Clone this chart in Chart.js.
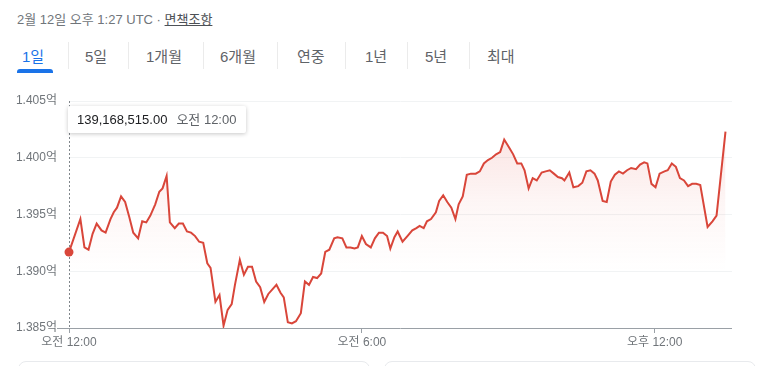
<!DOCTYPE html>
<html><head><meta charset="utf-8">
<script src="https://cdn.jsdelivr.net/npm/chart.js@4/dist/chart.umd.min.js"></script>
<style>
html,body{margin:0;padding:0;background:#fff;width:768px;height:366px;overflow:hidden;font-family:"Liberation Sans","Noto Sans CJK KR",Arial,sans-serif;}
#hdr{position:absolute;left:17px;top:9px;font-size:13px;color:#70757a;white-space:nowrap;}
#hdr u{color:#4d5156;text-decoration:underline;}
.tab{position:absolute;top:45px;font-size:15px;color:#5f6368;white-space:nowrap;}
.tab.on{color:#1a73e8;}
.sep{position:absolute;top:42px;width:1px;height:27px;background:#ebebeb;}
#bar{position:absolute;left:17px;top:69px;width:36px;height:4px;background:#1a73e8;border-radius:3px 3px 0 0;}
#wrap{position:absolute;left:0;top:80px;width:768px;height:286px;}
#tip{position:absolute;left:68px;top:106px;width:178px;height:27px;background:#fff;box-shadow:0 1px 4px rgba(0,0,0,0.22);border-radius:2px;font-size:13px;line-height:27px;color:#202124;white-space:nowrap;z-index:5;}
#tip span.t{color:#5f6368;margin-left:9px;}
.card{position:absolute;top:361px;height:20px;border:1px solid #e8eaed;border-radius:8px;}
</style></head><body>
<div id="hdr">2월 12일 오후 1:27 UTC · <u>면책조항</u></div>
<div id="tabs"></div>
<div id="bar"></div>
<div class="card" style="left:18px;width:350px"></div>
<div class="card" style="left:384px;width:370px"></div>
<div id="wrap"><canvas id="c" width="768" height="286"></canvas></div>
<div id="tip"></div>
<script>
// ---- data ----
const tabLabels = ['1일','5일','1개월','6개월','연중','1년','5년','최대'];
const minutes = [0,14,19,24,29,34,40,45,51,55,59,64,69,74,79,85,90,95,100,106,111,115,120,124,130,135,140,145,150,155,160,165,170,174,180,185,190,195,200,204,210,215,220,225,230,235,240,245,250,255,260,264,269,274,279,285,290,295,300,305,310,315,320,326,330,336,341,346,351,355,360,365,371,376,381,386,391,395,400,404,410,416,422,427,431,436,440,445,451,455,460,465,470,475,479,484,489,494,500,505,510,515,520,525,530,535,541,546,551,556,560,565,570,575,581,586,591,596,601,606,609,615,620,626,631,636,641,646,650,656,661,666,671,676,681,686,691,697,702,707,711,716,721,726,732,736,741,746,751,756,761,766,771,776,785,791,796,807];
const prices = [1.39168515,1.3946,1.3921,1.3919,1.3933,1.3942,1.3936,1.3934,1.3946,1.3952,1.3956,1.3966,1.3961,1.3948,1.3934,1.3929,1.3944,1.3943,1.3949,1.3959,1.3970,1.3973,1.3984,1.3943,1.3938,1.3942,1.3942,1.3935,1.3934,1.3931,1.3926,1.3925,1.3907,1.3903,1.3873,1.3879,1.3852,1.3866,1.3871,1.3888,1.3910,1.3897,1.3904,1.3904,1.3891,1.3886,1.3873,1.3880,1.3884,1.3888,1.3881,1.3877,1.3855,1.3854,1.3856,1.3863,1.3891,1.3888,1.3895,1.3894,1.3898,1.3917,1.3919,1.3929,1.3930,1.3929,1.3921,1.3921,1.3920,1.3921,1.3931,1.3924,1.3921,1.3929,1.3934,1.3934,1.3931,1.3920,1.3930,1.3935,1.3926,1.3931,1.3936,1.3938,1.3940,1.3938,1.3944,1.3946,1.3952,1.3962,1.3967,1.3961,1.3956,1.3946,1.3959,1.3966,1.3985,1.3986,1.3986,1.3988,1.3995,1.3998,1.4000,1.4003,1.4005,1.4016,1.4009,1.4003,1.3995,1.3995,1.3989,1.3973,1.3982,1.3980,1.3987,1.3988,1.3989,1.3986,1.3983,1.3982,1.3980,1.3987,1.3974,1.3975,1.3978,1.3988,1.3989,1.3986,1.3980,1.3962,1.3961,1.3979,1.3985,1.3988,1.3986,1.3989,1.3991,1.3990,1.3994,1.3996,1.3995,1.3977,1.3974,1.3986,1.3988,1.3989,1.3995,1.3992,1.3982,1.3980,1.3975,1.3977,1.3977,1.3976,1.3939,1.3944,1.3949,1.4023];
const xTickMinutes = [0,360,720];
const xTickLabels = ['오전 12:00','오전 6:00','오후 12:00'];
const yTicks = [1.385,1.390,1.395,1.400,1.405];
const tipTimeLabel = '오전 12:00';

// ---- header tabs ----
const tabX = [22,85,146,220,297,365,425,487];
const sepX = [68,128,203,277,345,407,469];
const tabs = document.getElementById('tabs');
tabLabels.forEach((t,i)=>{const d=document.createElement('div');d.className='tab'+(i===0?' on':'');d.style.left=tabX[i]+'px';d.textContent=t;tabs.appendChild(d);});
sepX.forEach(x=>{const d=document.createElement('div');d.className='sep';d.style.left=x+'px';tabs.appendChild(d);});

// tooltip text from first point
const first = prices[0]*1e8;
document.getElementById('tip').innerHTML = '<span style="margin-left:9px">'+first.toLocaleString('en-US',{minimumFractionDigits:2,maximumFractionDigits:2})+'</span><span class="t">'+tipTimeLabel+'</span>';

const RED = '#d9463a';
const FONT = '"Liberation Sans","Noto Sans CJK KR",Arial,sans-serif';

const crosshair = {
  id:'crosshair',
  afterDatasetsDraw(chart){
    const {ctx, chartArea, scales} = chart;
    const x = Math.round(scales.x.getPixelForValue(minutes[0]))+0.5;
    ctx.save();
    ctx.strokeStyle = '#80868b';
    ctx.lineWidth = 1;
    ctx.setLineDash([2,2]);
    ctx.beginPath();
    ctx.moveTo(x, chartArea.top);
    ctx.lineTo(x, chartArea.bottom);
    ctx.stroke();
    ctx.restore();
    // redraw first point on top
    const meta = chart.getDatasetMeta(0);
    const p = meta.data[0];
    ctx.save();
    ctx.fillStyle = RED;
    ctx.beginPath();
    ctx.arc(p.x, p.y, 4.5, 0, Math.PI*2);
    ctx.fill();
    ctx.restore();
  }
};

new Chart(document.getElementById('c'), {
  type:'line',
  data:{
    datasets:[{
      data: minutes.map((m,i)=>({x:m,y:prices[i]})),
      borderColor: RED,
      borderWidth: 2,
      pointRadius: 0,
      tension: 0,
      fill: 'start',
      backgroundColor(ctx){
        const ca = ctx.chart.chartArea;
        if(!ca) return 'rgba(217,70,58,0.1)';
        const g = ctx.chart.ctx.createLinearGradient(0, ca.top, 0, ca.bottom);
        g.addColorStop(0, 'rgba(225,80,70,0.20)');
        g.addColorStop(0.45, 'rgba(225,80,70,0.05)');
        g.addColorStop(0.75, 'rgba(225,80,70,0)');
        return g;
      }
    }]
  },
  options:{
    responsive:false,
    animation:false,
    events:[],
    layout:{padding:{left:0,right:36,top:21,bottom:0}},
    plugins:{legend:{display:false},tooltip:{enabled:false}},
    scales:{
      x:{
        type:'linear',
        min:0,
        max:815,
        afterBuildTicks(s){ s.ticks = xTickMinutes.map(v=>({value:v})); },
        afterFit(s){ s.height = 38; },
        border:{display:false},
        grid:{drawOnChartArea:false, drawTicks:true, tickLength:5, color:'#9aa0a6', tickWidth:1},
        ticks:{
          padding:2,
          maxRotation:0,
          autoSkip:false,
          color:'#70757a',
          font:{size:12, family:FONT},
          callback(v){ const i = xTickMinutes.indexOf(v); return i>=0 ? xTickLabels[i] : ''; }
        }
      },
      y:{
        type:'linear',
        min:1.385,
        max:1.405,
        afterBuildTicks(s){ s.ticks = yTicks.map(v=>({value:v})); },
        afterFit(s){ s.width = 69; },
        border:{display:false},
        grid:{
          drawTicks:true,
          tickLength:12,
          color(c){ return Math.abs(c.tick.value-1.385)<1e-9 ? '#9aa0a6' : '#f1f3f4'; },
          tickColor(c){ return Math.abs(c.tick.value-1.385)<1e-9 ? '#9aa0a6' : 'rgba(0,0,0,0)'; },
          lineWidth:1
        },
        ticks:{
          padding:0,
          color:'#70757a',
          font:{size:12, family:FONT},
          callback(v){ return v.toFixed(3)+'억'; }
        }
      }
    }
  },
  plugins:[crosshair]
});
</script>
</body></html>
